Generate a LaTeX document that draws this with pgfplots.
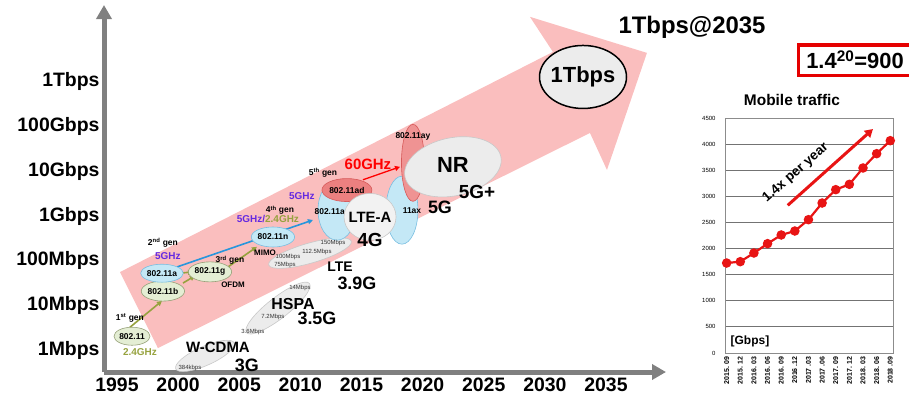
\documentclass[border=0pt]{standalone}
\usepackage{pgfplots}
\pgfplotsset{compat=1.18}
\usepackage{fontspec}
\setmainfont{Liberation Sans}
\usetikzlibrary{shapes.geometric,arrows.meta}
\definecolor{pinkA}{RGB}{250,190,190}
\definecolor{axgray}{RGB}{128,128,128}
\definecolor{lblue}{RGB}{196,232,246}
\definecolor{lblueB}{RGB}{120,190,225}
\definecolor{lgreen}{RGB}{228,238,212}
\definecolor{lgreenB}{RGB}{150,160,120}
\definecolor{lgray}{RGB}{236,236,236}
\definecolor{lgrayB}{RGB}{200,200,200}
\definecolor{salmon}{RGB}{236,128,128}
\definecolor{salmonB}{RGB}{215,90,90}
\definecolor{olive2}{RGB}{150,162,62}
\definecolor{purp}{RGB}{100,40,225}
\definecolor{arrblue}{RGB}{40,150,220}
\definecolor{lineRed}{RGB}{232,20,20}
\tikzset{
  el/.style={ellipse, inner sep=0pt, line width=0.6bp},
  sm/.style={font=\bfseries\fontsize{8.5}{8.5}\selectfont, inner sep=0pt},
  tiny/.style={font=\fontsize{6}{6}\selectfont, inner sep=0pt, text=black!80},
  big/.style={font=\bfseries\fontsize{#1}{#1}\selectfont, inner sep=0pt},
}
\begin{document}
\begin{tikzpicture}[x=1bp,y=1bp]
\useasboundingbox (0,0) rectangle (909,405);
% ---------------- main chart ----------------
\begin{axis}[
  at={(104bp,33bp)}, anchor=south west,
  scale only axis, width=562bp, height=367bp,
  xmin=1993.94, xmax=2039.91, ymin=-0.49, ymax=7.72,
  axis lines=left,
  axis line style={draw=axgray, line width=5bp, -{Triangle[width=15bp,length=14bp]}},
  xtick={1995,2000,2005,2010,2015,2020,2025,2030,2035},
  xticklabels={1995,2000,2005,2010,2015,2020,2025,2030,2035},
  ytick={0,1,2,3,4,5,6},
  yticklabels={1Mbps,10Mbps,100Mbps,1Gbps,10Gbps,100Gbps,1Tbps},
  major tick length=0pt,
  tick label style={font=\bfseries\fontsize{19.5}{19.5}\selectfont},
  xticklabel style={yshift=-2bp},
  yticklabel style={xshift=-1bp},
  clip=false,
]
% big pink arrow
\addplot[fill=pinkA, draw=none] coordinates {
 (1995.25,1.746) (1998.35,0.045) (2033.69,4.858) (2035.08,4.03)
 (2038.35,6.649) (2028.78,7.455) (2030.66,6.671)} -- cycle;

% gray cellular ellipses
\node[el, fill=lgray, draw=lgrayB, minimum width=64bp, minimum height=19bp, rotate=24] at (axis cs:2002.2,-0.13) {};
\node[el, fill=lgray, draw=lgrayB, minimum width=80bp, minimum height=21bp, rotate=38] at (axis cs:2008.17,0.94) {};
\node[el, fill=lgray, draw=lgrayB, minimum width=86bp, minimum height=20bp, rotate=16] at (axis cs:2010.79,2.17) {};

% arrows between Wi-Fi generations
\draw[olive2, line width=1.6bp, -{Triangle[width=5bp,length=5bp]}] (axis cs:1996.06,0.51) -- (axis cs:1998.68,1.10);
\draw[olive2, line width=1.6bp, -{Triangle[width=5bp,length=5bp]}] (axis cs:2000.40,1.50) -- (axis cs:2001.38,1.66);
\draw[olive2, line width=1.6bp, -{Triangle[width=5bp,length=5bp]}] (axis cs:2000.15,1.72) -- (axis cs:2001.22,1.75);
\draw[olive2, line width=1.6bp, -{Triangle[width=5bp,length=5bp]}] (axis cs:2004.08,1.86) -- (axis cs:2006.45,2.31);
\draw[arrblue, line width=1.6bp, -{Triangle[width=5bp,length=5bp]}] (axis cs:1999.91,1.86) -- (axis cs:2011.03,2.91);

% Wi-Fi ellipses
\node[el, fill=lgreen, draw=lgreenB, minimum width=36bp, minimum height=18bp, sm] at (axis cs:1996.23,0.31) {802.11};
\node[el, fill=lgreen, draw=lgreenB, minimum width=40bp, minimum height=20bp, sm] at (axis cs:1998.76,1.32) {802.11b};
\node[el, fill=lblue, draw=lblueB, minimum width=40bp, minimum height=18bp, sm] at (axis cs:1998.68,1.72) {802.11a};
\node[el, fill=lgreen, draw=lgreenB, minimum width=40bp, minimum height=20bp, sm] at (axis cs:2002.61,1.75) {802.11g};
\node[el, fill=lblue, draw=lblueB, minimum width=42bp, minimum height=20bp, sm] at (axis cs:2007.76,2.53) {802.11n};

% 5th gen / 5G blobs
\node[el, fill=lblue, draw=lblueB, minimum width=38bp, minimum height=60bp] at (axis cs:2013.0,3.13) {};
\node[sm] at (axis cs:2012.59,3.09) {802.11ac};
\node[el, fill=lblue, draw=lblueB, minimum width=32bp, minimum height=68bp] at (axis cs:2018.31,3.13) {};
\node[sm] at (axis cs:2019.13,3.11) {11ax};
\node[el, fill=salmon, draw=salmonB, minimum width=43bp, minimum height=23bp, sm] at (axis cs:2013.81,3.58) {802.11ad};
\node[el, fill=salmon!85, draw=salmonB, minimum width=23bp, minimum height=77bp] at (axis cs:2019.21,4.19) {};
\node[sm] at (axis cs:2019.21,4.77) {802.11ay};
\draw[red, line width=1.3bp, -{Triangle[width=5bp,length=5bp]}] (axis cs:2015.12,3.81) -- (axis cs:2018.15,4.10);
\node[el, fill=lgray, draw=lgrayB, minimum width=98bp, minimum height=58bp, rotate=12] at (axis cs:2022.48,4.10) {};
\node[big=22] at (axis cs:2022.48,4.14) {NR};
\node[el, fill=lgray!70, draw=lgrayB, minimum width=52bp, minimum height=47bp] at (axis cs:2015.70,2.98) {};
\node[big=15] at (axis cs:2015.70,2.98) {LTE-A};
\node[el, fill=lgray, draw=black, line width=1.5bp, minimum width=87bp, minimum height=63bp] at (axis cs:2033.12,6.11) {};
\node[big=22] at (axis cs:2033.12,6.11) {1Tbps};

% small labels
\node[sm] at (axis cs:1996.06,0.72) {1\textsuperscript{st} gen};
\node[sm, text=olive2, font=\bfseries\fontsize{10}{10}\selectfont] at (axis cs:1996.88,-0.04) {2.4GHz};
\node[sm] at (axis cs:1998.76,2.40) {2\textsuperscript{nd} gen};
\node[sm, text=purp, font=\bfseries\fontsize{10}{10}\selectfont] at (axis cs:1999.17,2.10) {5GHz};
\node[sm] at (axis cs:2004.24,2.01) {3\textsuperscript{rd} gen};
\node[sm, font=\bfseries\fontsize{8}{8}\selectfont] at (axis cs:2004.49,1.46) {OFDM};
\node[sm] at (axis cs:2008.33,3.13) {4\textsuperscript{th} gen};
\node[sm, font=\bfseries\fontsize{10}{10}\selectfont] at (axis cs:2007.35,2.93) {\textcolor{purp}{5GHz/}\textcolor{olive2}{2.4GHz}};
\node[sm, font=\bfseries\fontsize{8}{8}\selectfont] at (axis cs:2007.11,2.17) {MIMO};
\node[sm] at (axis cs:2011.85,3.96) {5\textsuperscript{th} gen};
\node[sm, text=purp, font=\bfseries\fontsize{10}{10}\selectfont] at (axis cs:2010.13,3.45) {5GHz};
\node[big=15, text=red] at (axis cs:2015.53,4.16) {60GHz};

\node[tiny] at (axis cs:2012.67,2.40) {150Mbps};
\node[tiny] at (axis cs:2011.36,2.19) {112.5Mbps};
\node[tiny] at (axis cs:2008.99,2.08) {100Mbps};
\node[tiny] at (axis cs:2008.74,1.90) {75Mbps};
\node[tiny] at (axis cs:2009.97,1.39) {14Mbps};
\node[tiny] at (axis cs:2007.76,0.74) {7.2Mbps};
\node[tiny] at (axis cs:2006.12,0.40) {3.6Mbps};
\node[tiny] at (axis cs:2000.97,-0.40) {384kbps};

% generation labels
\node[big=15] at (axis cs:2003.26,0.07) {W-CDMA};
\node[big=18] at (axis cs:2005.63,-0.34) {3G};
\node[big=16] at (axis cs:2009.40,1.03) {HSPA};
\node[big=18] at (axis cs:2011.36,0.72) {3.5G};
\node[big=14] at (axis cs:2013.24,1.86) {LTE};
\node[big=18] at (axis cs:2014.63,1.50) {3.9G};
\node[big=19] at (axis cs:2015.70,2.46) {4G};
\node[big=18] at (axis cs:2021.42,3.20) {5G};
\node[big=19] at (axis cs:2024.45,3.54) {5G+};
\end{axis}

% headline and formula box
\node[big=24] at (692,378) {1Tbps@2035};
\draw[red!90!black, line width=3bp] (798,330) rectangle (930,360);
\node[big=22] at (855,345) {1.4\textsuperscript{20}=900};
\node[big=15.5] at (792,305) {Mobile traffic};

% ---------------- inset chart ----------------
\begin{axis}[
  at={(725bp,52bp)}, anchor=south west,
  scale only axis, width=168bp, height=235bp,
  xmin=-0.12, xmax=12.2, ymin=0, ymax=4500,
  ytick={0,500,...,4500},
  xtick={0,...,12},
  xticklabels={2015. 09,2015. 12,2016. 03,2016. 06,2016. 09,2016 .12,2017 .03,2017 .06,2017. 09,2017. 12,2018. 03,2018. 06,2018 .09},
  xticklabel style={rotate=90, anchor=east, font=\bfseries\fontsize{7}{7}\selectfont},
  yticklabel style={font=\fontsize{6}{6}\selectfont, xshift=-6bp},
  /pgf/number format/assume math mode=true,
  /pgf/number format/1000 sep={},
  ymajorgrids, grid style={black!55, line width=0.8bp},
  axis line style={black!45, line width=0.8bp},
  major tick length=0pt,
  clip=false,
]
\addplot[color=lineRed, line width=2.2bp, mark=*, mark size=3.6bp, mark options={fill=lineRed, draw=lineRed}] coordinates {
 (0,1723) (1,1749) (2,1915) (3,2094) (4,2260) (5,2336) (6,2553)
 (7,2872) (8,3128) (9,3230) (10,3543) (11,3817) (12,4066)};
\draw[lineRed, line width=3bp, -{Triangle[width=9bp,length=8bp]}] (axis cs:4.48,2828) -- (axis cs:10.73,4289);
\node[big=13.5, rotate=41] at (axis cs:5.07,3447) {1.4x per year};
\node[big=12] at (axis cs:1.71,223) {[Gbps]};
\end{axis}
\end{tikzpicture}
\end{document}
